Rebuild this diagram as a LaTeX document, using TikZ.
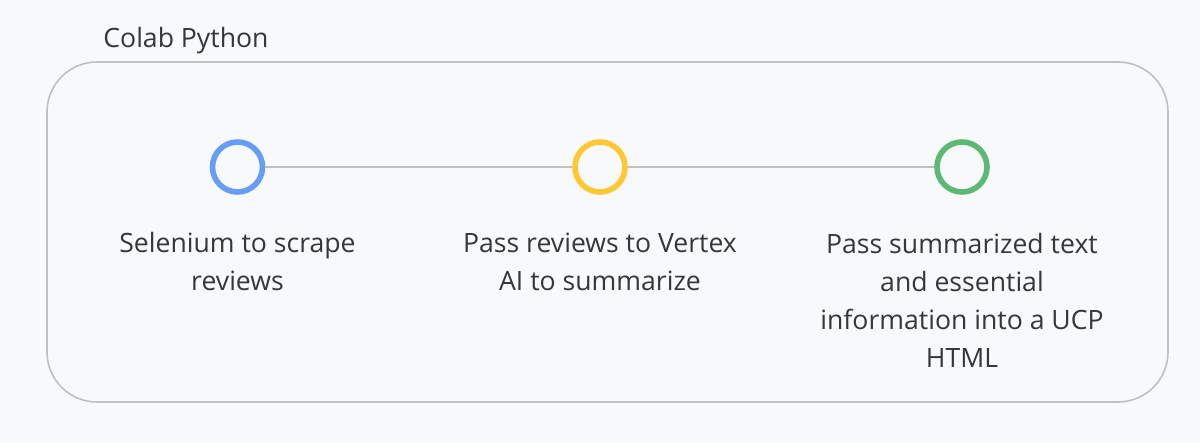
\documentclass[tikz,border=0pt]{standalone}
\usepackage{fontspec}
\setmainfont{Open Sans}
\usetikzlibrary{positioning}

\definecolor{bgcol}{HTML}{F8F9FA}
\definecolor{edgecol}{HTML}{BDC1C6}
\definecolor{txtcol}{HTML}{35373A}
\definecolor{gblue}{HTML}{669DF6}
\definecolor{gyellow}{HTML}{FCC934}
\definecolor{ggreen}{HTML}{5BB974}

\tikzset{
  stepdot/.style={circle, draw, line width=2.8pt, minimum size=25pt, inner sep=0pt, fill=bgcol},
  steptext/.style={anchor=base, align=center, text=txtcol, inner sep=0pt,
    font=\fontsize{13.3pt}{19pt}\selectfont},
}

\begin{document}
\begin{tikzpicture}[x=0.5pt, y=-0.5pt]

% background
\fill [bgcol] (0, 0) rectangle (1200, 443);
\useasboundingbox (0, 0) rectangle (1200, 443);

% frame
\draw [edgecol, line width=0.8pt, rounded corners=25pt] (47, 62) rectangle (1168, 402);
\node [anchor=base west, text=txtcol, inner sep=0pt, font=\fontsize{13.3pt}{19pt}\selectfont]
    (title) at (103, 48) {Colab Python};

% steps
\node [stepdot, draw=gblue]   (scrape)    at (237.5, 167) {};
\node [stepdot, draw=gyellow] (summarize) at (600, 167) {};
\node [stepdot, draw=ggreen]  (publish)   at (962, 167) {};
\draw [edgecol, line width=0.6pt] (scrape) -- (summarize);
\draw [edgecol, line width=0.6pt] (summarize) -- (publish);

% texts (base = last line)
\def\lh{38}
\node [steptext] (scrapetext) at (237.5, 253+\lh) {Selenium to scrape\\reviews};
\node [steptext] (summarizetext) at (600, 253+\lh) {Pass reviews to Vertex\\AI to summarize};
\node [steptext] (publishtext) at (962, 253+3*\lh)
    {Pass summarized text\\and essential\\information into a UCP\\HTML};

\end{tikzpicture}
\end{document}
